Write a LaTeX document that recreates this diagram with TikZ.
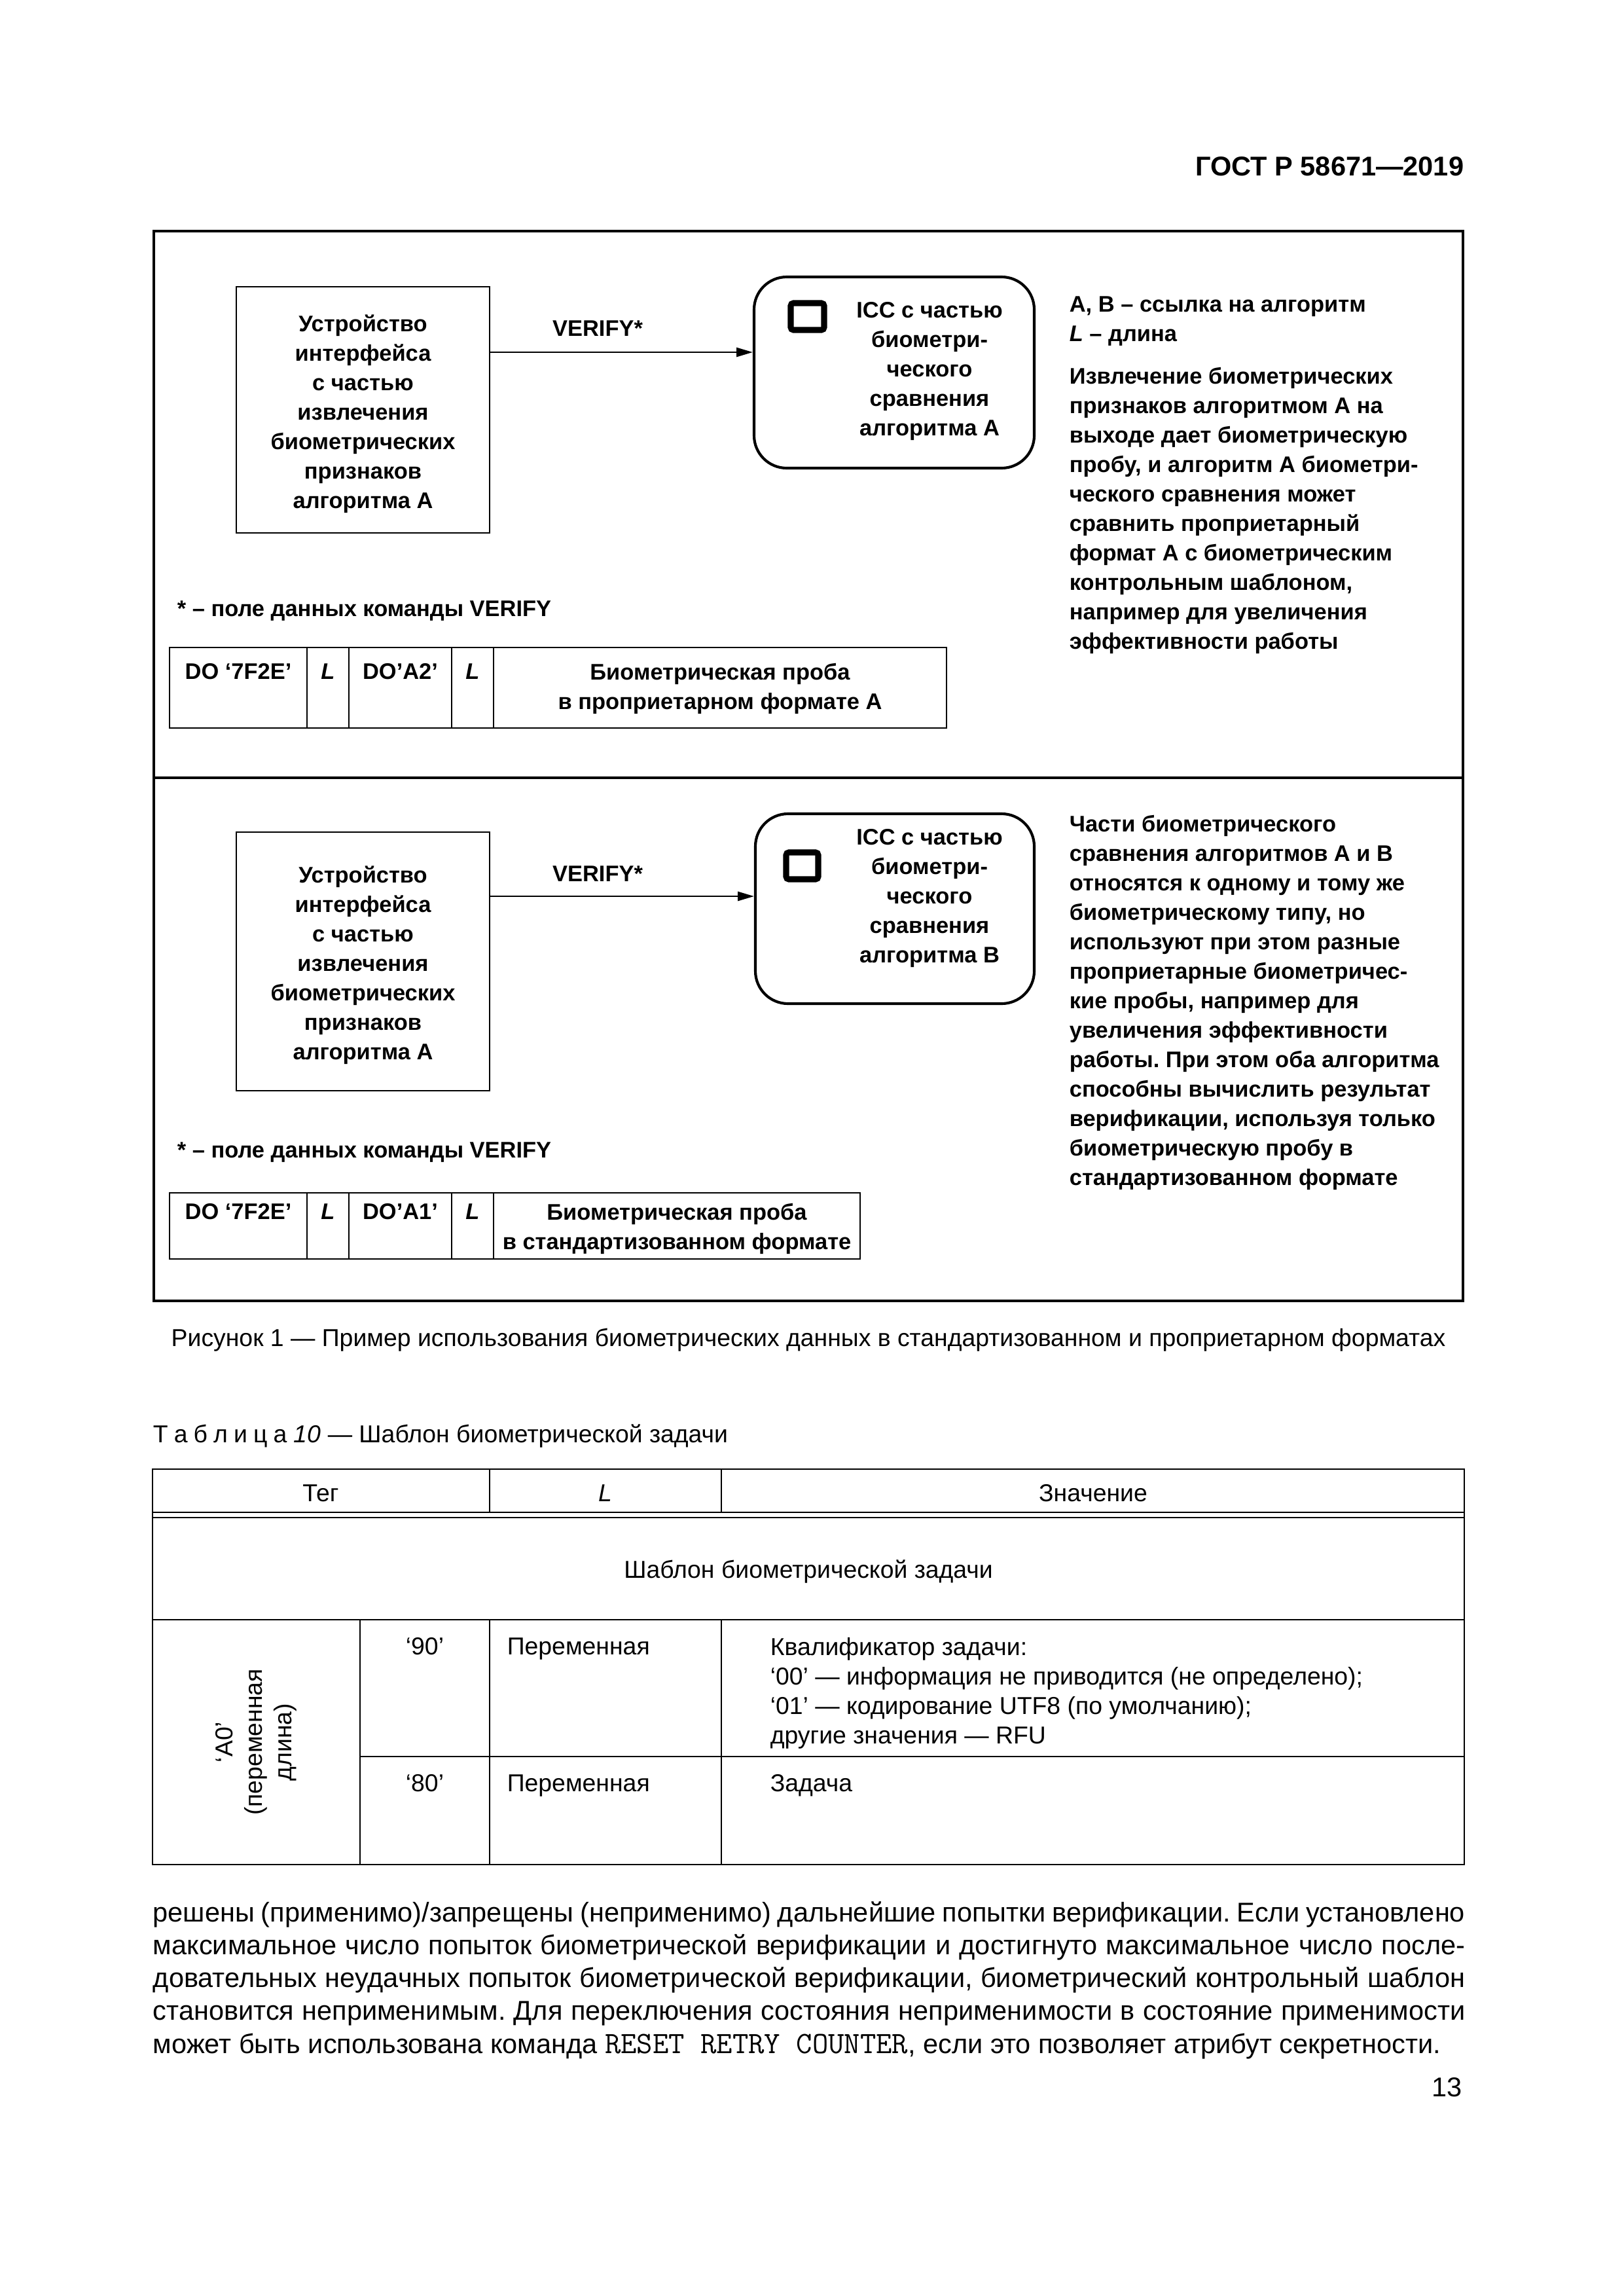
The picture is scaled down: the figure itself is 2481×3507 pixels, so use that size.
\documentclass[tikz,border=0pt]{standalone}
\usepackage{fontspec}
\setmainfont{Liberation Sans}
\usetikzlibrary{arrows.meta,fit}
\frenchspacing
\begin{document}
\begin{tikzpicture}[x=0.2409pt, y=-0.2409pt,
  figf/.style={font=\fontsize{8.3}{10.85}\selectfont\bfseries, inner sep=0pt},
  tabf/.style={font=\fontsize{9}{10.85}\selectfont, inner sep=0pt},
  parf/.style={font=\fontsize{10}{12.1}\selectfont, inner sep=0pt, anchor=base west},
  devbox/.style={draw, line width=0.6pt, inner sep=0pt},
  iccbox/.style={draw, line width=1pt, rounded corners=12pt, inner sep=0pt},
  chip/.style={draw, line width=2.2pt, rounded corners=1pt, inner sep=0pt},
  arr/.style={line width=0.6pt, -{Triangle[length=6pt,width=3.4pt]}},
  frameline/.style={line width=0.75pt},
  tline/.style={line width=0.7pt},
  vline/.style={line width=0.45pt}]
\useasboundingbox (0,0) rectangle (2481,3507);
\fill[white] (0,0) rectangle (2481,3507);

% header
\node[font=\fontsize{10}{12}\selectfont\bfseries, inner sep=0pt, anchor=base east] (hdr) at (2237,268) {ГОСТ Р 58671—2019};

% figure frame
\draw[frameline] (235,353) rectangle (2235,1987);
\draw[frameline] (235,1188) -- (2235,1188);

% ---------- upper panel ----------
\node[devbox, fit={(361,438)(748,814)}] (dev1) {};
\node[figf, align=center, anchor=north] (dev1t) at (554.5,474) {\strut Устройство\\интерфейса\\с частью\\извлечения\\биометрических\\признаков\\алгоритма A\strut};
\node[iccbox, fit={(1152,423)(1580,715)}] (icc1) {};
\node[chip, fit={(1208,463)(1259,504)}] (chip1) {};
\node[figf, align=center, anchor=north] (icc1t) at (1420,453) {\strut ICC с частью\\биометри-\\ческого\\сравнения\\алгоритма A\strut};
\coordinate (a1) at (0,538);
\draw[arr] (dev1.east |- a1) -- (icc1.west |- a1);
\node[figf, anchor=base] (v1) at (913,513) {VERIFY*};
\node[figf, anchor=base west] (fn1) at (270,941) {* – поле данных команды VERIFY};

\node[figf, align=left, anchor=north west] (n1a) at (1633,444) {\strut A, B – ссылка на алгоритм\\\textit{L} – длина\strut};
\node[figf, align=left, anchor=north west] (n1b) at (1633,554) {\strut Извлечение биометрических\\признаков алгоритмом A на\\выходе дает биометрическую\\пробу, и алгоритм A биометри-\\ческого сравнения может\\сравнить проприетарный\\формат A с биометрическим\\контрольным шаблоном,\\например для увеличения\\эффективности работы\strut};

% data field 1
\draw[tline] (259,989) rectangle (1446,1112);
\foreach \x in {469,533,690,754} \draw[vline] (\x,989) -- (\x,1112);
\node[figf, anchor=base] (d1a) at (364,1037) {DO ‘7F2E’};
\node[figf, anchor=base] (d1b) at (501,1037) {\textit{L}};
\node[figf, anchor=base] (d1c) at (611.5,1037) {DO’A2’};
\node[figf, anchor=base] (d1d) at (722,1037) {\textit{L}};
\node[figf, align=center, anchor=north] (d1e) at (1100,1006) {\strut Биометрическая проба\\в проприетарном формате A\strut};

% ---------- lower panel ----------
\node[devbox, fit={(361,1271)(748,1666)}] (dev2) {};
\node[figf, align=center, anchor=north] (dev2t) at (554.5,1316) {\strut Устройство\\интерфейса\\с частью\\извлечения\\биометрических\\признаков\\алгоритма A\strut};
\node[iccbox, fit={(1154,1243)(1580,1533)}] (icc2) {};
\node[chip, fit={(1201,1302)(1250,1343)}] (chip2) {};
\node[figf, align=center, anchor=north] (icc2t) at (1420,1258) {\strut ICC с частью\\биометри-\\ческого\\сравнения\\алгоритма B\strut};
\coordinate (a2) at (0,1369);
\draw[arr] (dev2.east |- a2) -- (icc2.west |- a2);
\node[figf, anchor=base] (v2) at (913,1346) {VERIFY*};
\node[figf, anchor=base west] (fn2) at (270,1768) {* – поле данных команды VERIFY};

\node[figf, align=left, anchor=north west] (n2) at (1633,1238) {\strut Части биометрического\\сравнения алгоритмов A и B\\относятся к одному и тому же\\биометрическому типу, но\\используют при этом разные\\проприетарные биометричес-\\кие пробы, например для\\увеличения эффективности\\работы. При этом оба алгоритма\\способны вычислить результат\\верификации, используя только\\биометрическую пробу в\\стандартизованном формате\strut};

% data field 2
\draw[tline] (259,1822) rectangle (1314,1923);
\foreach \x in {469,533,690,754} \draw[vline] (\x,1822) -- (\x,1923);
\node[figf, anchor=base] (d2a) at (364,1862) {DO ‘7F2E’};
\node[figf, anchor=base] (d2b) at (501,1862) {\textit{L}};
\node[figf, anchor=base] (d2c) at (611.5,1862) {DO’A1’};
\node[figf, anchor=base] (d2d) at (722,1862) {\textit{L}};
\node[figf, align=center, anchor=north] (d2e) at (1034,1831) {\strut Биометрическая проба\\в стандартизованном формате\strut};

% caption
\node[tabf, anchor=base] (cap) at (1235,2056) {Рисунок 1 — Пример использования биометрических данных в стандартизованном и проприетарном форматах};

% table title
\node[tabf, anchor=base west] (ttl) at (233,2203) {Т\kern2.2pt а\kern2.2pt б\kern2.2pt л\kern2.2pt и\kern2.2pt ц\kern2.2pt а \textit{10} — Шаблон биометрической задачи};

% table
\draw[tline] (233,2244) rectangle (2237,2848);
\draw[vline] (233,2310) -- (2237,2310);
\draw[vline] (233,2318) -- (2237,2318);
\draw[tline] (233,2474) -- (2237,2474);
\draw[tline] (550,2683) -- (2237,2683);
\draw[vline] (748,2244) -- (748,2310);
\draw[vline] (1102,2244) -- (1102,2310);
\draw[vline] (550,2474) -- (550,2848);
\draw[vline] (748,2474) -- (748,2848);
\draw[vline] (1102,2474) -- (1102,2848);

\node[tabf, anchor=base] (h1) at (490,2293) {Тег};
\node[tabf, anchor=base] (h2) at (925,2293) {\textit{L}};
\node[tabf, anchor=base] (h3) at (1670,2293) {Значение};
\node[tabf, anchor=base] (r0) at (1235,2410) {Шаблон биометрической задачи};
\node[tabf, align=center, rotate=90] (tagA0) at (391,2661) {‘A0’\\(переменная\\длина)};
\node[tabf, anchor=base] (r1a) at (649,2527) {‘90’};
\node[tabf, anchor=base west] (r1b) at (774,2527) {Переменная};
\node[tabf, align=left, anchor=north west] (r1c) at (1176,2496) {\strut Квалификатор задачи:\\‘00’ — информация не приводится (не определено);\\‘01’ — кодирование UTF8 (по умолчанию);\\другие значения — RFU\strut};
\node[tabf, anchor=base] (r2a) at (649,2736) {‘80’};
\node[tabf, anchor=base west] (r2b) at (774,2736) {Переменная};
\node[tabf, anchor=base west] (r2c) at (1176,2736) {Задача};

% paragraph
\node[parf] (p1) at (233,2935) {\makebox[482.8pt][s]{решены (применимо)/запрещены (неприменимо) дальнейшие попытки верификации. Если установлено}};
\node[parf] (p2) at (233,2985) {\makebox[482.8pt][s]{максимальное число попыток биометрической верификации и достигнуто максимальное число после-}};
\node[parf] (p3) at (233,3035) {\makebox[482.8pt][s]{довательных неудачных попыток биометрической верификации, биометрический контрольный шаблон}};
\node[parf] (p4) at (233,3085) {\makebox[482.8pt][s]{становится неприменимым. Для переключения состояния неприменимости в состояние применимости}};
\node[parf] (p5) at (233,3136) {может быть использована команда {\fontsize{11.4}{12}\ttfamily RESET RETRY COUNTER}, если это позволяет атрибут секретности.};

% page number
\node[font=\fontsize{10}{12}\selectfont, inner sep=0pt, anchor=base east] (pg) at (2234,3202) {13};
\end{tikzpicture}
\end{document}
